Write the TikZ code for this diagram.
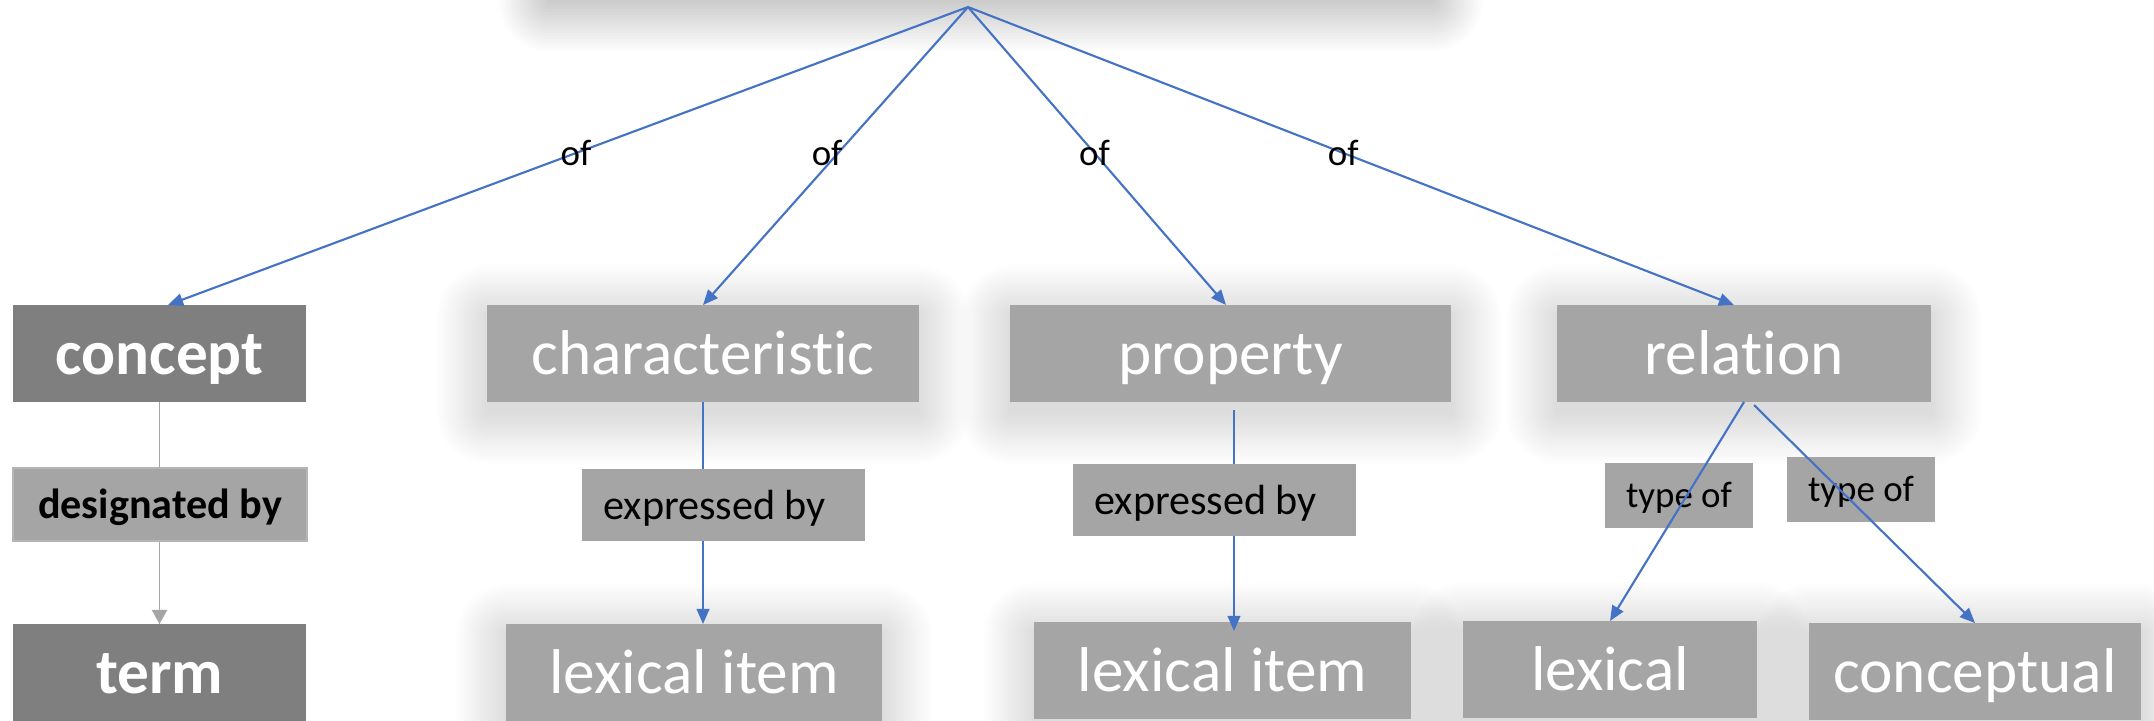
\documentclass[tikz,border=0pt]{standalone}
\usepackage{fontspec}
\setmainfont{Carlito}[Ligatures={NoCommon,NoContextual}]
\usetikzlibrary{calc,arrows.meta,backgrounds}

\definecolor{darkbox}{HTML}{7F7F7F}
\definecolor{lightbox}{HTML}{A5A5A5}
\definecolor{linkblue}{HTML}{4472C4}
\definecolor{edgegray}{HTML}{B5B5B5}

% box node from its corners: style, name, x1, y1, x2, y2, text
\newcommand\boxnode[7]{%
  \node[#1, minimum width={(#5-#3)*0.1mm}, minimum height={(#6-#4)*0.1mm}]
    (#2) at ({(#3+#5)/2},{(#4+#6)/2}) {#7};%
}

% soft drop shadow behind a named node: stacked translucent rounded rectangles
\newcommand\softshadow[2][0.0075]{%
  \foreach \d in {2,5,...,50} {%
    \fill[black,opacity=#1,rounded corners=\d*0.1mm]
      ($(#2.south west)+(-\d,\d+11)$) rectangle ($(#2.north east)+(\d,-\d+11)$);
  }%
}

\begin{document}
\begin{tikzpicture}[x=0.1mm,y=-0.1mm,
  box/.style={inner sep=0pt, outer sep=0pt},
  bigtext/.style={font=\fontsize{18}{20}\selectfont, text height=16pt, text depth=4pt},
  midtext/.style={font=\fontsize{12}{14}\selectfont, text height=10.8pt, text depth=2.8pt},
  smalltext/.style={font=\fontsize{10.5}{12}\selectfont, text height=9.45pt, text depth=2.45pt},
  termbox/.style={box, bigtext, font=\fontsize{18}{20}\selectfont\bfseries, fill=darkbox, text=white},
  itembox/.style={box, bigtext, fill=lightbox, text=white},
  namebox/.style={box, midtext, font=\fontsize{12}{14}\selectfont\bfseries, fill=lightbox, draw=edgegray, line width=0.3pt, text=black},
  linkbox/.style={box, midtext, fill=lightbox, text=black},
  typebox/.style={box, smalltext, fill=lightbox, text=black},
  oflabel/.style={font=\fontsize{10.5}{12}\selectfont, text=black, inner sep=0pt},
  bluearrow/.style={draw=linkblue, line width=0.6pt, -{Triangle[length=4.3pt,width=3.6pt]}},
  grayline/.style={draw=lightbox, line width=0.55pt},
  grayarrow/.style={grayline, -{Triangle[length=4pt,width=4.3pt]}}
]
\useasboundingbox (0,0) rectangle (2154,720);

% main boxes
\boxnode{itembox}{root}{549}{-120}{1432}{-10}{}
\coordinate (apex) at (968,7);

\boxnode{termbox}{concept}{13}{305}{306}{402}{concept}
\boxnode{termbox}{term}{13}{624}{306}{721}{term}

\boxnode{itembox}{char}{487}{305}{919}{402}{characteristic}
\boxnode{itembox}{prop}{1010}{305}{1451}{402}{property}
\boxnode{itembox}{rel}{1557}{305}{1931}{402}{relation}

\boxnode{itembox}{lexA}{506}{624}{882}{721}{lexical item}
\boxnode{itembox}{lexB}{1034}{622}{1411}{719}{lexical item}
\boxnode{itembox}{lexical}{1463}{621}{1757}{718}{lexical}
\boxnode{itembox}{conceptual}{1809}{623}{2141}{720}{conceptual}

\boxnode{typebox}{typeA}{1605}{463}{1753}{528}{type of}
\boxnode{typebox}{typeB}{1787}{457}{1935}{522}{type of}

% shadows and white ground
\begin{scope}[on background layer]
  \fill[white] (0,0) rectangle (2154,720);
  \softshadow[0.011]{root}
  \foreach \n in {char,prop,rel,lexA,lexB,lexical,conceptual} {\softshadow{\n}}
\end{scope}

% "of" links from the root
\draw[bluearrow] (apex) -- node[oflabel, pos=0.49] {of} ([xshift=0.85mm]concept.north);
\draw[bluearrow] (apex) -- node[oflabel, pos=0.49, xshift=-1.1mm] {of} (char.north);
\draw[bluearrow] (apex) -- node[oflabel, pos=0.49] {of} ([xshift=-0.45mm]prop.north);
\draw[bluearrow] (apex) -- node[oflabel, pos=0.49] {of} ([xshift=-1mm]rel.north);

% vertical chains
\draw[grayline] (concept.south) -- (concept.south |- term.north);
\draw[grayarrow] ($(concept.south)+(0,100)$) -- (concept.south |- term.north);
\draw[bluearrow] (char.south) -- (char.south |- lexA.north);
\draw[bluearrow] ($(prop.south)+(3.5,8)$) -- ($(prop.south |- lexB.north)+(3.5,9)$);

% labels sitting on the chains
\boxnode{namebox}{desig}{13}{468}{307}{541}{designated by}
\boxnode{linkbox}{expA}{582}{469}{865}{541}{expressed by\hspace*{5pt}}
\boxnode{linkbox}{expB}{1073}{464}{1356}{536}{expressed by\hspace*{5pt}}

% relation subtypes
\draw[bluearrow] (rel.south) -- (lexical.north);
\draw[bluearrow] ($(rel.south)+(10,3)$) -- (conceptual.north);
\end{tikzpicture}
\end{document}
